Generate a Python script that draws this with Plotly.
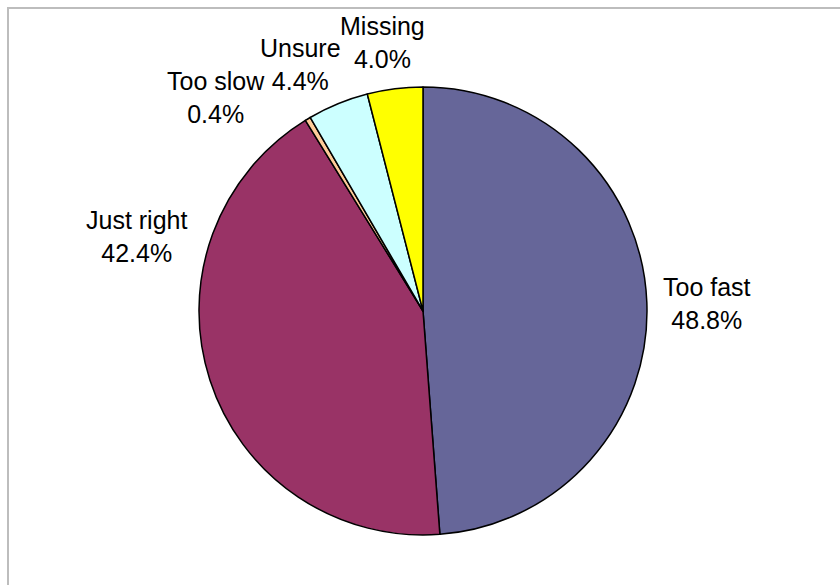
import plotly.graph_objects as go

# Survey responses: pace of the course
categories = ["Too fast", "Just right", "Too slow", "Unsure", "Missing"]
shares = [48.8, 42.4, 0.4, 4.4, 4.0]
colors = ["#666699", "#993366", "#FFCC99", "#CCFFFF", "#FFFF00"]

W, H = 840, 585
# pie placement in pixels
cx, cy, r = 423, 311, 224

# label anchor points (pixel centres) for each category's text block
label_xy = {
    "Too fast": (707, 303),
    "Just right": (136, 236),
    "Too slow": (216, 98),
    "Unsure": (300, 64),
    "Missing": (382, 43),
}

fig = go.Figure(
    go.Pie(
        labels=categories,
        values=shares,
        sort=False,
        direction="clockwise",
        rotation=0,
        marker=dict(colors=colors, line=dict(color="#000000", width=1.5)),
        textinfo="none",
        hoverinfo="label+percent",
        showlegend=False,
        domain=dict(
            x=[(cx - r) / W, (cx + r) / W],
            y=[1 - (cy + r) / H, 1 - (cy - r) / H],
        ),
    )
)

annotations = []
for name, val in zip(categories, shares):
    px, py = label_xy[name]
    annotations.append(
        dict(
            text=f"{name}<br>{val:.1f}%",
            x=px / W,
            y=1 - py / H,
            xref="paper",
            yref="paper",
            showarrow=False,
            xanchor="center",
            yanchor="middle",
            align="center",
            font=dict(family="Liberation Sans, Arial, sans-serif", size=25, color="#000000"),
        )
    )

fig.update_layout(
    width=W,
    height=H,
    margin=dict(l=0, r=0, t=0, b=0),
    paper_bgcolor="#FFFFFF",
    plot_bgcolor="#FFFFFF",
    annotations=annotations,
    shapes=[
        dict(
            type="rect",
            xref="paper",
            yref="paper",
            x0=8 / W,
            x1=1.05,
            y0=-0.05,
            y1=1 - 8 / H,
            line=dict(color="#BDBDBD", width=2),
            fillcolor="rgba(0,0,0,0)",
            layer="below",
        )
    ],
)

fig.write_html("out.html")
